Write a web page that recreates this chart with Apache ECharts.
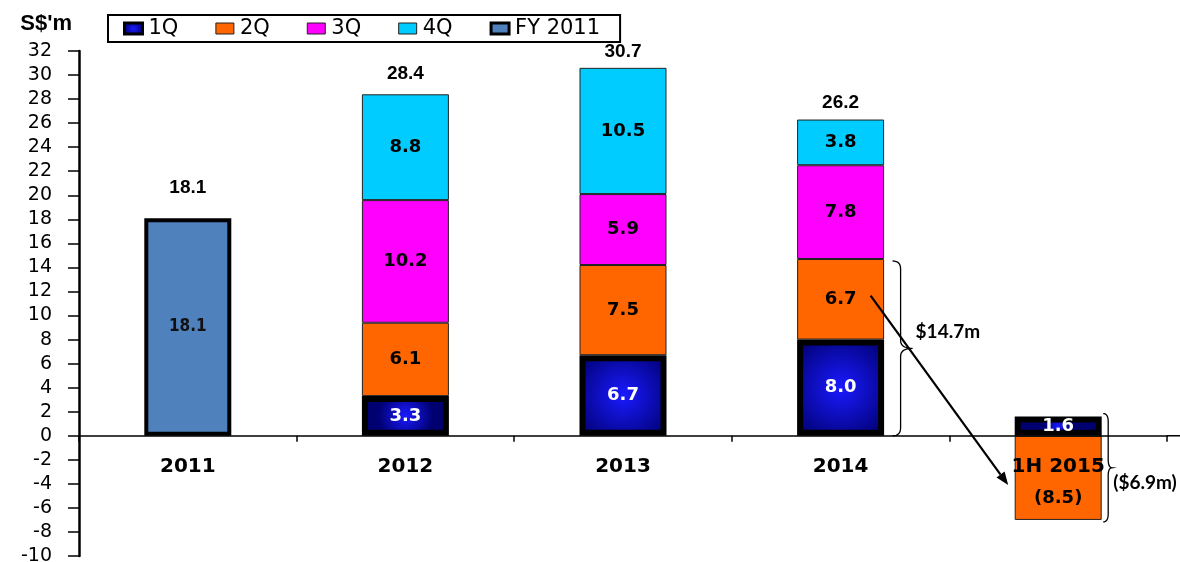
<!DOCTYPE html>
<html>
<head>
<meta charset="utf-8">
<script src="https://cdn.jsdelivr.net/npm/echarts@6/dist/echarts.min.js"></script>
<style>
html,body{margin:0;padding:0;background:#fff;}
#c{width:1180px;height:562px;}
</style>
</head>
<body>
<div id="c"></div>
<script>
// ---- data ----
const categories = ['2011', '2012', '2013', '2014', '1H 2015'];
const q1 = [null, 3.3, 6.7, 8.0, 1.6];
const q2 = [null, 6.1, 7.5, 6.7, -7.0];
const q3 = [null, 10.2, 5.9, 7.8, null];
const q4 = [null, 8.8, 10.5, 3.8, null];
const fy2011 = [18.1, null, null, null, null];
const totals = [18.1, 28.4, 30.7, 26.2, null];
const q2LabelText = [null, '6.1', '7.5', '6.7', '(8.5)'];
const yMin = -10, yMax = 32, yStep = 2;
const noteFY2014 = '$14.7m';
const note1H2015 = '($6.9m)';
const bracket2014Range = [0, 14.7];
const bracket1HRange = [-7.0, 1.6];

// ---- layout / styles ----
const W = 1180, H = 562;
const G = {left: 79, right: 13, top: 51, bottom: 6};
const gridH = H - G.top - G.bottom;
const zeroFromBottom = gridH * (0 - yMin) / (yMax - yMin);

const wide = 'DejaVu Sans';
const narrow = "'Liberation Sans Narrow', 'DejaVu Sans Condensed', 'Liberation Sans', Arial, sans-serif";
const q1Fill = {type: 'radial', x: 0.5, y: 0.5, r: 0.7,
  colorStops: [{offset: 0, color: '#1a1aff'}, {offset: 1, color: '#000070'}]};
const inLabel = {show: true, position: 'inside', fontFamily: wide, fontWeight: 'bold', fontSize: 18, color: '#000'};
const fmt = p => (p.value == null ? '' : Number(p.value).toFixed(1));
const totalLift = [9, -1, -7, -4, 0];

const chart = echarts.init(document.getElementById('c'), null, {renderer: 'canvas'});

const option = {
  animation: false,
  backgroundColor: '#fff',
  grid: Object.assign({containLabel: false, outerBoundsMode: 'none'}, G),
  legend: {
    data: [
      {name: '1Q', itemStyle: {borderWidth: 3, borderColor: '#000'}},
      {name: '2Q', itemStyle: {borderWidth: 1, borderColor: '#222'}},
      {name: '3Q', itemStyle: {borderWidth: 1, borderColor: '#222'}},
      {name: '4Q', itemStyle: {borderWidth: 1, borderColor: '#222'}},
      {name: 'FY 2011', itemStyle: {borderWidth: 3, borderColor: '#000'}}
    ],
    left: 108, top: 15,
    padding: [3, 20, 3, 15],
    itemWidth: 18, itemHeight: 11, itemGap: 37,
    icon: 'rect',
    borderColor: '#000', borderWidth: 2, backgroundColor: '#fff',
    textStyle: {fontFamily: wide, fontSize: 21, color: '#000', lineHeight: 18, padding: [0, 0, 0, 1]}
  },
  xAxis: {
    type: 'category', data: categories, z: 10,
    offset: -zeroFromBottom,
    axisLine: {onZero: false, lineStyle: {color: '#000', width: 1.5}},
    axisTick: {show: true, alignWithLabel: false, length: 6, lineStyle: {color: '#000', width: 1.5}},
    axisLabel: {fontFamily: wide, fontWeight: 'bold', fontSize: 20, color: '#000', margin: 21},
    splitLine: {show: false}
  },
  yAxis: {
    type: 'value', min: yMin, max: yMax, interval: yStep,
    name: "S$'m", nameLocation: 'end', nameGap: 27,
    nameTextStyle: {fontFamily: 'Liberation Sans', fontWeight: 'bold', fontSize: 22, color: '#000',
                    align: 'right', verticalAlign: 'middle', padding: [0, 7, 0, 0]},
    axisLine: {show: true, lineStyle: {color: '#000', width: 2.5}},
    axisTick: {show: true, inside: false, length: 11, lineStyle: {color: '#000', width: 1.5}},
    axisLabel: {fontFamily: wide, fontSize: 19, color: '#000', margin: 27},
    splitLine: {show: false}
  },
  series: [
    {name: '1Q', type: 'bar', stack: 's', barWidth: 87, z: 4, data: q1,
     itemStyle: {color: q1Fill, borderColor: '#000', borderWidth: 6},
     label: Object.assign({}, inLabel, {color: '#fff', formatter: fmt})},
    {name: '2Q', type: 'bar', stack: 's', barWidth: 87, z: 3,
     data: q2.map((v, i) => i === 4 ? {value: v, label: {offset: [0, 20]}} : v),
     itemStyle: {color: '#FF6600', borderColor: '#222', borderWidth: 1},
     label: Object.assign({}, inLabel, {formatter: p => q2LabelText[p.dataIndex] || ''})},
    {name: '3Q', type: 'bar', stack: 's', barWidth: 87, z: 3, data: q3,
     itemStyle: {color: '#FF00FF', borderColor: '#222', borderWidth: 1},
     label: Object.assign({}, inLabel, {formatter: fmt})},
    {name: '4Q', type: 'bar', stack: 's', barWidth: 87, z: 3, data: q4,
     itemStyle: {color: '#00CCFF', borderColor: '#222', borderWidth: 1},
     label: Object.assign({}, inLabel, {formatter: fmt})},
    {name: 'FY 2011', type: 'bar', stack: 's', barWidth: 87, z: 4, data: fy2011,
     itemStyle: {color: '#4F81BD', borderColor: '#000', borderWidth: 4},
     label: {show: true, position: 'inside', fontFamily: narrow, fontWeight: 'bold', fontSize: 17, color: '#111', formatter: fmt}},
    {name: 'Total', type: 'scatter', symbol: 'circle', symbolSize: 0, z: 6,
     itemStyle: {color: '#000', opacity: 1},
     data: totals.map((v, i) => v == null ? null : {value: v, label: {distance: 12 + totalLift[i]}}),
     label: {show: true, position: 'top', fontFamily: 'Liberation Sans, Arial, sans-serif', fontWeight: 'bold', fontSize: 19, color: '#000',
             formatter: p => Number(p.value).toFixed(1)},
     emphasis: {disabled: true},
     silent: true}
  ]
};
chart.setOption(option);

// ---- annotations positioned through the axes ----
const px = c => chart.convertToPixel({xAxisIndex: 0}, c);
const py = v => chart.convertToPixel({yAxisIndex: 0}, v);
const x14 = px('2014'), x1H = px('1H 2015');

function quad(p0, p1, p2, n) {
  const out = [];
  for (let i = 0; i <= n; i++) {
    const t = i / n, a = (1 - t) * (1 - t), b = 2 * (1 - t) * t, c = t * t;
    out.push([a * p0[0] + b * p1[0] + c * p2[0], a * p0[1] + b * p1[1] + c * p2[1]]);
  }
  return out;
}
function brace(x, yTop, yBot, hook, tip) {
  const ym = (yTop + yBot) / 2;
  const r = Math.min(8, (yBot - yTop) / 6);
  let pts = [];
  pts = pts.concat(quad([x - hook, yTop], [x, yTop], [x, yTop + r], 8));
  pts = pts.concat(quad([x, ym - r], [x, ym], [x + tip, ym], 8));
  pts = pts.concat(quad([x + tip, ym], [x, ym], [x, ym + r], 8));
  pts = pts.concat(quad([x, yBot - r], [x, yBot], [x - hook, yBot], 8));
  return pts;
}

const b1x = x14 + 60;
const b1t = py(bracket2014Range[1]) + 2, b1b = py(bracket2014Range[0]);
const b2x = x1H + 50;
const b2t = py(bracket1HRange[1]) - 3, b2b = py(bracket1HRange[0]) + 2;

const sx = x14 + 30, sy = py(11.65);
const ex = x1H - 50, ey = py(-4.1);
const dx = ex - sx, dy = ey - sy, len = Math.sqrt(dx * dx + dy * dy);
const ux = dx / len, uy = dy / len;
const hl = 13, hw = 5;
const bx = ex - ux * hl, by = ey - uy * hl;
const axisEndX = px(categories[categories.length - 1]) + (x1H - x14) / 2;

chart.setOption({
  graphic: [
    {type: 'line', z: 1, shape: {x1: axisEndX, y1: py(0), x2: W, y2: py(0)},
     style: {stroke: '#000', lineWidth: 1.5}},
    {type: 'polyline', z: 20, shape: {points: brace(b1x, b1t, b1b, 8, 12)},
     style: {stroke: '#000', lineWidth: 1.3, fill: null}},
    {type: 'text', z: 20, x: b1x + 15, y: (b1t + b1b) / 2 - 17,
     style: {text: noteFY2014, font: 'bold 19px Lato', fill: '#000', textVerticalAlign: 'middle', verticalAlign: 'middle'}},
    {type: 'polyline', z: 20, shape: {points: brace(b2x, b2t, b2b, 5, 4)},
     style: {stroke: '#000', lineWidth: 1.3, fill: null}},
    {type: 'text', z: 20, x: b2x + 5, y: (b2t + b2b) / 2 + 15,
     style: {text: note1H2015, font: 'bold 19px Lato', fill: '#000', textVerticalAlign: 'middle', verticalAlign: 'middle'}},
    {type: 'line', z: 20, shape: {x1: sx, y1: sy, x2: bx, y2: by},
     style: {stroke: '#000', lineWidth: 2.2}},
    {type: 'polygon', z: 20,
     shape: {points: [[ex, ey], [bx - uy * hw, by + ux * hw], [bx + uy * hw, by - ux * hw]]},
     style: {fill: '#000'}}
  ]
});
</script>
</body>
</html>
